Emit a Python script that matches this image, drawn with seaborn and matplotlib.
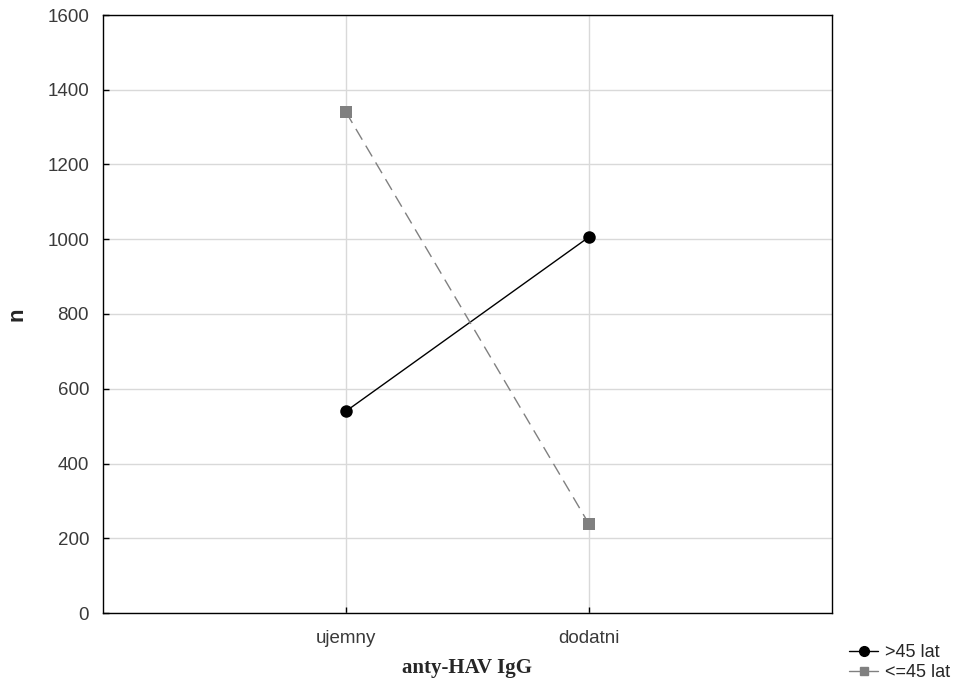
import matplotlib
matplotlib.use("Agg")
import matplotlib.pyplot as plt
import seaborn as sns
import pandas as pd
from matplotlib.lines import Line2D

categories = ["ujemny", "dodatni"]
groups = [">45 lat", "<=45 lat"]
over45 = [540, 1006]
under45 = [1340, 238]

df = pd.DataFrame({
    "anty-HAV IgG": categories * 2,
    "n": over45 + under45,
    "grupa": [groups[0]] * 2 + [groups[1]] * 2,
})

sns.set_style("white")
plt.rcParams["font.family"] = ["Liberation Sans", "DejaVu Sans"]

fig = plt.figure(figsize=(9.68, 6.9), dpi=100)
ax = fig.add_axes([103 / 968, 1 - 613 / 690, 729 / 968, 598 / 690])

sns.lineplot(data=df, x="anty-HAV IgG", y="n", hue="grupa", style="grupa",
             palette={groups[0]: "black", groups[1]: "#808080"},
             markers={groups[0]: "o", groups[1]: "s"},
             dashes={groups[0]: "", groups[1]: (9, 5)},
             markersize=9, markeredgewidth=0, linewidth=1,
             sort=False, legend=False, ax=ax)

ax.set_xlim(-1, 2)
ax.set_ylim(0, 1600)
ax.set_yticks(range(0, 1601, 200))
ax.set_xticks([0, 1])
ax.set_xticklabels(categories)
ax.grid(True, color="#d9d9d9", linewidth=1)
ax.set_axisbelow(True)
for s in ax.spines.values():
    s.set_color("black")
    s.set_linewidth(1)
ax.tick_params(direction="in", length=4, width=1, color="black", labelsize=13.5,
               labelcolor="#3a3a3a", pad=10, left=True, bottom=True)
ax.tick_params(axis="x", pad=12)

ax.set_xlabel("anty-HAV IgG", fontsize=15, fontweight="bold",
              family=["Liberation Serif"], labelpad=8)
ax.set_ylabel("n", fontsize=16, fontweight="bold", labelpad=14)

handles = [
    Line2D([], [], color="black", marker="o", markersize=7, linewidth=1),
    Line2D([], [], color="#808080", marker="s", markersize=6, linewidth=1),
]
fig.legend(handles, groups, loc="upper left", bbox_to_anchor=(842 / 968, 1 - 637 / 690),
           frameon=False, fontsize=13, handlelength=1.6, handletextpad=0.4,
           labelspacing=0.15, borderaxespad=0)

fig.savefig("out.png", dpi=100)
